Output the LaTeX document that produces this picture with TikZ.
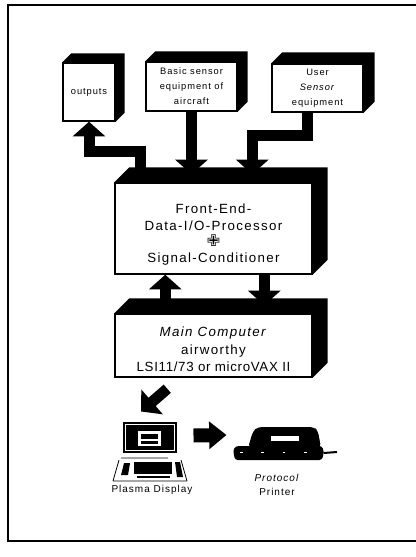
\documentclass[tikz,border=0pt]{standalone}
\usepackage{fontspec}
\setmainfont{Liberation Sans}[LetterSpace=10]
\newfontfamily\symfont{DejaVu Sans}
\usetikzlibrary{arrows.meta,calc}

\newcommand{\px}{0.75pt}
% solid top and right faces of a box
\newcommand{\boxdepth}[2]{%
  \fill (#1.north west) -- ++(#2,-#2) -- ($(#1.north east)+(#2,-#2)$)
    -- ($(#1.south east)+(#2,-#2)$) -- (#1.south east) -- (#1.north east) -- cycle;}

\tikzset{every picture/.style={line width=0.75pt}}
\tikzset{
  unit/.style={draw, fill=white, line width=1.1pt, inner sep=0pt, align=center,
    font=\fontsize{7}{11.25}\selectfont},
  bigunit/.style={draw, fill=white, line width=1.1pt, inner sep=0pt},
  bigtext/.style={inner sep=0pt, align=center, font=\fontsize{10}{13}\selectfont},
  pipe/.style={line width=11*\px, line join=miter, -{Triangle[length=11pt,width=24pt]}},
  fatpipe/.style={line width=14*\px, -{Triangle[length=13pt,width=20pt]}},
  caption/.style={inner sep=0pt, align=center, font=\fontsize{7.5}{10.5}\selectfont},
}

\begin{document}
\begin{tikzpicture}[x=0.75pt,y=0.75pt,yscale=-1,xscale=1]
\useasboundingbox (0,0) rectangle (416,557);

%frame
\draw [line width=1.2pt] (416,5) -- (8,5) -- (8,541) -- (416,541) ;

%units
\node [unit, minimum width=52*\px, minimum height=58*\px] (out) at (89,92) {outputs};
\node [unit, minimum width=91*\px, minimum height=49*\px] (basic) at (191.5,86.5) {Basic sensor\\equipment of\\aircraft};
\node [unit, minimum width=91*\px, minimum height=48*\px] (user) at (317.5,88) {User\\\textit{Sensor}\\equipment};
\node [bigunit, minimum width=197*\px, minimum height=91*\px] (fe) at (213.5,228.5) {};
\node [bigunit, minimum width=197*\px, minimum height=63*\px] (main) at (213.5,345.5) {};
\node [bigtext] (fetext) at ($(fe.center)+(0,6)$) {Front-End-\\Data-I/O-Processor\\[-1pt]{\symfont\fontsize{12}{12}\selectfont ✙}\\[-1pt]Signal-Conditioner};
\node [bigtext] (maintext) at ($(main.center)+(0,4)$) {\textit{Main Computer}\\airworthy\\{\addfontfeature{LetterSpace=5}LSI11/73 or microVAX II}};
\boxdepth{out}{9}
\boxdepth{basic}{10}
\boxdepth{user}{11}
\boxdepth{fe}{15}
\boxdepth{main}{15}

%data paths
\coordinate (fetop) at ($(fe.north west)+(0,-8)$);
\draw [pipe] ($(fetop)+(26,0)$) |- ($(out.south)+(0,30)$) -- (out.south);
\draw [pipe] (basic.south) -- (basic.south |- fetop);
\draw [pipe] ($(user.south)+(-10,0)$) -- ++(0,23) -| ($(fetop)+(138,0)$);
\draw [pipe] ($(main.north west)+(51,-8)$) -- ($(fe.south west)+(51,0)$);
\draw [pipe] ($(fe.south west)+(150,0)$) -- ($(main.north west)+(150,-8)$);

%plasma display
\node [fill=black, inner sep=0pt, minimum width=54*\px, minimum height=31*\px] (disp) at (150,437.5) {};
\draw [white, line width=0.8pt] ($(disp.north west)+(3,3)$) rectangle ($(disp.south east)+(-3,-3)$);
\fill [white] (138,431) rectangle (161,446);
\fill (141,434) rectangle (158,438.5);
\fill (141,440.5) rectangle (158,443.5);
\draw [line width=0.6pt] (113,481) -- (119,460) (121,458) -- (168,458) (181,460) -- (187,481) (113,481) -- (187,481);
\fill (124,463) -- (130,463) -- (128,475) -- (121,475) -- cycle;
\fill (134,462) rectangle (172,474);
\fill (137,475.5) rectangle (170,477.5);
\fill (175,462) -- (180,462) -- (183,477) -- (177,477) -- cycle;
\node [caption] (disptxt) at (152,490) {Plasma Display};

%printer
\node [inner sep=0pt, minimum width=90*\px, minimum height=33*\px] (prn) at (278,444) {};
\fill [rounded corners=2pt] (233,450) -- (236,446) -- (322,446) -- (324,452) -- (322,460) -- (235,460) -- cycle;
\fill [rounded corners=3pt] (248,448) -- (253,431) -- (258,427) -- (314,427) -- (318,431) -- (321,448) -- cycle;
\fill [white] (271,436) rectangle (299,441);
\draw [white, line width=0.5pt, dash pattern=on 2pt off 14pt] (240,452) -- (318,452);
\draw [line width=1.5pt] (prn.east |- 0,453) -- (337,452);
\node [caption] (prntxt) at (277,485) {\textit{Protocol}\\Printer};

%output paths
\draw [pipe] ($(main.south west)+(53,11)$) -- ($(disp.north)+(-9,-10)$);
\draw [fatpipe] ($(disp.east)+(16,-2)$) -- ($(prn.west)+(-6,-9)$);

\end{tikzpicture}
\end{document}
